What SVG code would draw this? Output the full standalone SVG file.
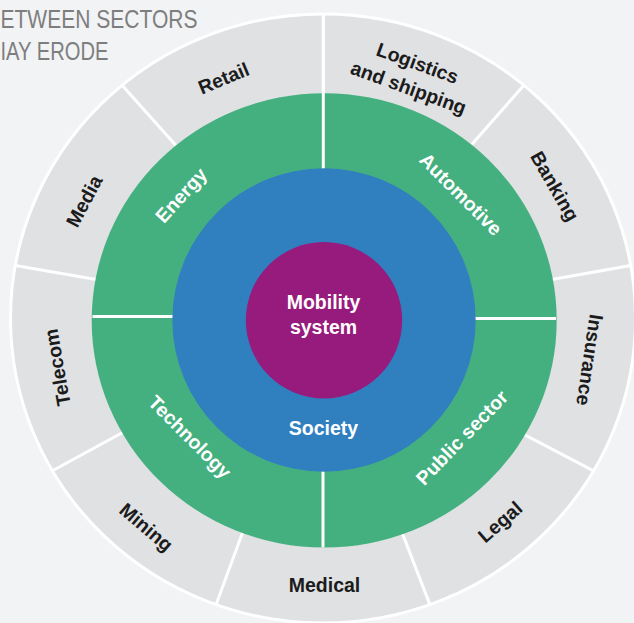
<svg xmlns="http://www.w3.org/2000/svg" width="634" height="623" viewBox="0 0 634 623">
<style>
.lbl{font-family:"Liberation Sans",Arial,sans-serif;font-weight:bold;font-size:19.5px;fill:#1b1b1b;text-anchor:middle}
.wht{font-family:"Liberation Sans",Arial,sans-serif;font-weight:bold;font-size:19.5px;fill:#ffffff;text-anchor:middle}
.ttl{font-family:"Liberation Sans",Arial,sans-serif;font-size:25px;fill:#7e7e7e}
.div{stroke:#ffffff;stroke-width:3;fill:none}
</style>
<rect width="634" height="623" fill="#f2f3f5"/>
<g id="title">
<text class="ttl" x="0.5" y="28" textLength="197" lengthAdjust="spacingAndGlyphs">ETWEEN SECTORS</text>
<text class="ttl" x="0.5" y="60" textLength="108" lengthAdjust="spacingAndGlyphs">IAY ERODE</text>
</g>
<g id="outer-ring">
<ellipse cx="323" cy="318.5" rx="312.5" ry="304.5" fill="#e0e1e3" stroke="#ffffff" stroke-width="3"/>
</g>
<g id="outer-dividers" class="div">
<line x1="323.3" y1="14" x2="323.3" y2="200"/>
<line x1="523.9" y1="85.2" x2="460.3" y2="157.5"/>
<line x1="630.8" y1="265.6" x2="534.8" y2="282.4"/>
<line x1="593.6" y1="470.8" x2="507.9" y2="426"/>
<line x1="429.9" y1="604.6" x2="396.3" y2="517.6"/>
<line x1="216.1" y1="604.6" x2="248.1" y2="517.6"/>
<line x1="52.4" y1="470.8" x2="136.9" y2="424.8"/>
<line x1="15.2" y1="265.6" x2="113.7" y2="282.4"/>
<line x1="122.1" y1="85.2" x2="186.7" y2="157.5"/>
</g>
<g id="middle-ring">
<ellipse cx="324.2" cy="320.4" rx="232.5" ry="227.2" fill="#44b07f"/>
</g>
<g id="middle-dividers" class="div">
<line x1="323.3" y1="14" x2="323.3" y2="200"/>
<line x1="92.5" y1="316.5" x2="200" y2="316.5"/>
<line x1="450" y1="318.5" x2="556" y2="318.5"/>
<line x1="323" y1="450" x2="323" y2="547.5"/>
</g>
<g id="node-society">
<circle cx="324" cy="320" r="151.7" fill="#3080c0"/>
<text class="wht" x="323.5" y="435">Society</text>
</g>
<g id="node-mobility-system">
<circle cx="324" cy="320.2" r="78.2" fill="#961b7d"/>
<text class="wht" x="323.5" y="308.5">Mobility</text>
<text class="wht" x="323.5" y="333.5">system</text>
</g>
<g id="node-energy"><text class="wht" transform="translate(181,195) rotate(-48)" y="7">Energy</text></g>
<g id="node-automotive"><text class="wht" transform="translate(461,194) rotate(45)" y="7">Automotive</text></g>
<g id="node-public-sector"><text class="wht" transform="translate(461.7,437.5) rotate(-46)" y="7">Public sector</text></g>
<g id="node-technology"><text class="wht" transform="translate(190,436.7) rotate(45)" y="7">Technology</text></g>
<g id="node-retail"><text class="lbl" transform="translate(223.5,78) rotate(-22.5)" y="7">Retail</text></g>
<g id="node-logistics"><text class="lbl" transform="translate(415.2,69.6) rotate(20)"><tspan x="0" y="0">Logistics</tspan><tspan x="0" y="26">and shipping</tspan></text></g>
<g id="node-banking"><text class="lbl" transform="translate(555,186) rotate(60)" y="7">Banking</text></g>
<g id="node-insurance"><text class="lbl" transform="translate(590,360) rotate(98.5)" y="7">Insurance</text></g>
<g id="node-legal"><text class="lbl" transform="translate(500,521.7) rotate(-41)" y="7">Legal</text></g>
<g id="node-medical"><text class="lbl" x="324.5" y="591.5">Medical</text></g>
<g id="node-mining"><text class="lbl" transform="translate(146.5,527) rotate(40.5)" y="7">Mining</text></g>
<g id="node-telecom"><text class="lbl" transform="translate(57,367.5) rotate(-100)" y="7">Telecom</text></g>
<g id="node-media"><text class="lbl" transform="translate(84,201) rotate(-62)" y="7">Media</text></g>
<g id="connectors"/>
</svg>
